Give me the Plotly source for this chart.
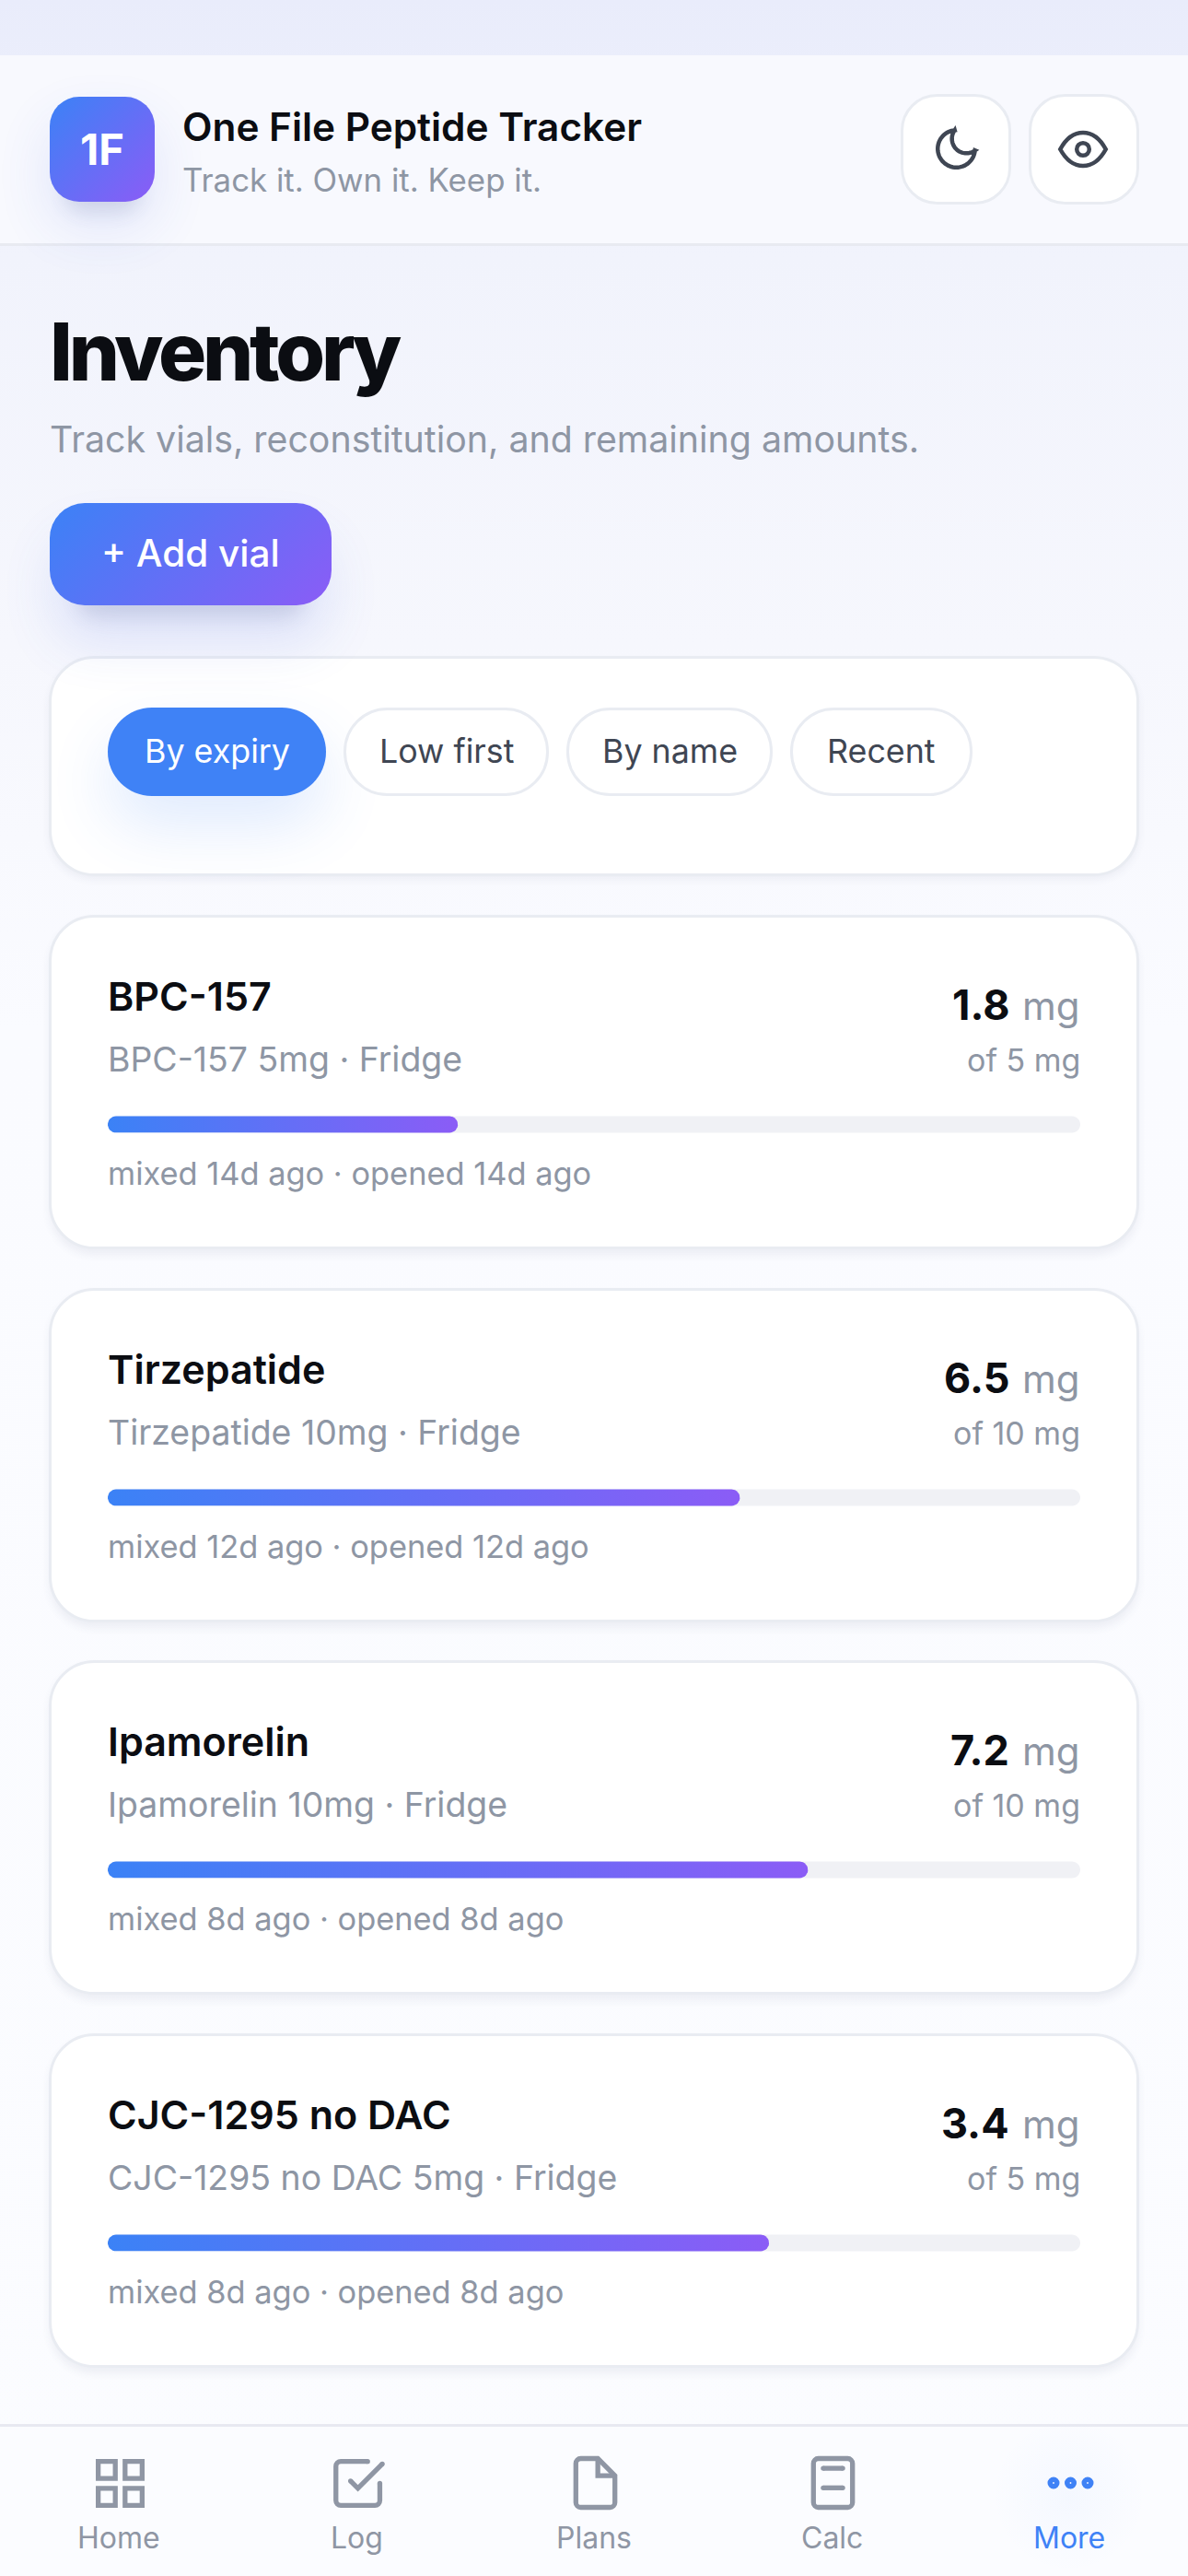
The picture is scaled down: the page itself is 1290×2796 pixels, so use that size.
import base64
import re
import numpy as np
import plotly.graph_objects as go

# values
vial_names = ["BPC-157", "Tirzepatide", "Ipamorelin", "CJC-1295 no DAC"]
vial_remaining = [1.8, 6.5, 7.2, 3.4]
vial_totals = [5, 10, 10, 5]
vial_mixed_days = [14, 12, 8, 8]
vial_opened_days = [14, 12, 8, 8]
vial_storage = ["Fridge", "Fridge", "Fridge", "Fridge"]
chip_labels = ["By expiry", "Low first", "By name", "Recent"]
nav_labels = ["Home", "Log", "Plans", "Calc", "More"]

W, H = 1290, 2796
FONT = "Inter"
INK = "#0B0D12"
GREY = "#8E96A4"
DARK = "#3F4653"
BLUE = "#3F82F6"
PURPLE = "#8B5CF6"
EDGE = "#E9ECF2"

card_tops = [993, 1398, 1802, 2207]
card_h = 363
track_x0, track_x1 = 117, 1173

shapes = []
annotations = []


def rr(x0, y0, x1, y1, r):
    k = r * 0.4477
    return (f"M{x0 + r} {y0} L{x1 - r} {y0} C{x1 - k} {y0} {x1} {y0 + k} {x1} {y0 + r} "
            f"L{x1} {y1 - r} C{x1} {y1 - k} {x1 - k} {y1} {x1 - r} {y1} "
            f"L{x0 + r} {y1} C{x0 + k} {y1} {x0} {y1 - k} {x0} {y1 - r} "
            f"L{x0} {y0 + r} C{x0} {y0 + k} {x0 + k} {y0} {x0 + r} {y0} Z")


def box(x0, y0, x1, y1, r, fill, line=None, lw=0, layer="between"):
    shapes.append(dict(type="path", path=rr(x0, y0, x1, y1, r), xref="x", yref="y", layer=layer,
                       fillcolor=fill, line=dict(color=line or fill, width=lw)))


def band(y0, y1, color):
    shapes.append(dict(type="rect", xref="x", yref="y", layer="between", x0=0, x1=W, y0=y0, y1=y1,
                       fillcolor=color, line=dict(width=0)))


def stroke(path, color, lw, fill="rgba(0,0,0,0)"):
    shapes.append(dict(type="path", path=path, xref="x", yref="y", layer="above",
                       fillcolor=fill, line=dict(color=color, width=lw)))


def icon(path, cx, cy, s):
    # path is written in a 24 unit box, numbers alternate x y
    nums = iter(range(10000))

    def repl(m):
        v = float(m.group())
        if next(nums) % 2 == 0:
            return f"{cx + (v - 12) * s:.2f}"
        return f"{cy + (v - 12) * s:.2f}"
    return re.sub(r"-?\d+\.?\d*", repl, path)


def dot(x, y, r, color):
    shapes.append(dict(type="circle", xref="x", yref="y", layer="above", x0=x - r, x1=x + r,
                       y0=y - r, y1=y + r, fillcolor=color, line=dict(width=0)))


def label(text, x, base, size, color, weight=400, anchor="left"):
    annotations.append(dict(text=text, x=x, y=base + size * 0.24, xref="x", yref="y", showarrow=False,
                            xanchor=anchor, yanchor="bottom", align=anchor, borderpad=0, borderwidth=0,
                            font=dict(family=FONT, size=size, color=color, weight=weight)))


def grad_def(name, x, y, w, h):
    half = (w + h) / 4
    mx, my = x + w / 2, y + h / 2
    return (f'<linearGradient id="{name}" gradientUnits="userSpaceOnUse" x1="{mx - half}" y1="{my - half}" '
            f'x2="{mx + half}" y2="{my + half}"><stop offset="0" stop-color="#3B82F6"/>'
            f'<stop offset="1" stop-color="{PURPLE}"/></linearGradient>')


def blur_def(name, sd):
    return (f'<filter id="{name}" x="-50%" y="-100%" width="200%" height="300%">'
            f'<feGaussianBlur stdDeviation="{sd}"/></filter>')


def page_image(defs, body, layer):
    svg = (f'<svg xmlns="http://www.w3.org/2000/svg" width="{W}" height="{H}" viewBox="0 0 {W} {H}">'
           f'<defs>{defs}</defs>{body}</svg>')
    src = "data:image/svg+xml;base64," + base64.b64encode(svg.encode()).decode()
    return dict(source=src, xref="x", yref="y", x=0, y=0, sizex=W, sizey=H, sizing="stretch",
                xanchor="left", yanchor="top", layer=layer)


def soft(x, y, w, h, r, color, op, f):
    return f'<rect x="{x}" y="{y}" width="{w}" height="{h}" rx="{r}" fill="{color}" opacity="{op}" filter="url(#{f})"/>'


# backdrop: page wash and soft card shadows
below_defs = ('<linearGradient id="wash" x1="0" y1="0" x2="0" y2="1">'
              '<stop offset="0" stop-color="#E9ECFB"/><stop offset="0.1" stop-color="#F1F3FC"/>'
              '<stop offset="0.25" stop-color="#F6F7FD"/><stop offset="0.4" stop-color="#FAFBFF"/>'
              '<stop offset="1" stop-color="#FBFCFF"/></linearGradient>' + blur_def("b5", 5))
below_body = f'<rect width="{W}" height="{H}" fill="url(#wash)"/>'
below_body += soft(54, 718, 1182, 236, 48, "#3A4470", 0.07, "b5")
for t in card_tops:
    below_body += soft(54, t + 6, 1182, card_h, 48, "#3A4470", 0.07, "b5")

# top layer: logo, add button and their glows
above_defs = (blur_def("b30", 30) + blur_def("b10", 10) + blur_def("b40", 34)
              + grad_def("g1", 54, 105, 114, 114) + grad_def("g2", 54, 546, 306, 111)
              + '<radialGradient id="glow"><stop offset="0" stop-color="#3B82F6" stop-opacity="0.035"/>'
              '<stop offset="1" stop-color="#3B82F6" stop-opacity="0"/></radialGradient>')
above_body = soft(54, 132, 114, 114, 30, "#3B5BE0", 0.13, "b30")
above_body += soft(70, 190, 82, 40, 20, "#3A4470", 0.13, "b10")
above_body += soft(60, 585, 294, 111, 36, "#3B5BE0", 0.14, "b30")
above_body += soft(84, 625, 246, 45, 20, "#3A4470", 0.13, "b10")
above_body += soft(117, 800, 237, 96, 48, BLUE, 0.16, "b40")
above_body += '<circle cx="1161" cy="2708" r="84" fill="url(#glow)"/>'
above_body += '<rect x="54" y="105" width="114" height="114" rx="32" fill="url(#g1)"/>'
above_body += '<rect x="54" y="546" width="306" height="111" rx="38" fill="url(#g2)"/>'

# header and bottom nav bands
band(60, 264, "#F8F9FE")
band(264, 267, "#E8EAF1")
band(2634, H, "#FBFCFF")
band(2631, 2634, "#E8E9F1")

# header
label("1F", 111, 179, 47, "#FFFFFF", 700, "center")
label("One File Peptide Tracker", 198, 153, 42.3, INK, 600)
label("Track it. Own it. Keep it.", 198, 208, 34.8, GREY, 400)
box(979.5, 103.5, 1096.5, 220.5, 38, "#FFFFFF", EDGE, 3)
box(1118.5, 103.5, 1235.5, 220.5, 38, "#FFFFFF", EDGE, 3)

a = np.radians(np.linspace(5, 265, 50))
moon = [(12 + 9 * np.cos(t), 12 + 9 * np.sin(t)) for t in a]
a = np.radians(np.linspace(216.5, 53.5, 40))
moon += [(16.84 + 7 * np.cos(t), 7.16 + 7 * np.sin(t)) for t in a]
moon_path = "M" + " L".join(f"{x:.2f} {y:.2f}" for x, y in moon) + " Z"
stroke(icon(moon_path, 1038.5, 161.5, 2.25), DARK, 4.5)
stroke(icon("M1 12 C4 6.5 7.5 4 12 4 C16.5 4 20 6.5 23 12 C20 17.5 16.5 20 12 20 C7.5 20 4 17.5 1 12 Z",
            1176, 162, 2.25), DARK, 4.5)
shapes.append(dict(type="circle", xref="x", yref="y", layer="above", x0=1169.2, x1=1182.8, y0=155.2, y1=168.8,
                   fillcolor="rgba(0,0,0,0)", line=dict(color=DARK, width=4.5)))

# page heading
label("Inventory", 54, 413, 87, INK, 700)
label("Track vials, reconstitution, and remaining amounts.", 54, 491, 39.3, GREY, 400)
label("+ Add vial", 207, 615, 40.5, "#FFFFFF", 500, "center")

# sort chips
box(54.5, 713.5, 1235.5, 949.5, 48, "#FFFFFF", EDGE, 3)
chip_edges = [(117, 354), (374.5, 594.5), (616.5, 837.5), (859.5, 1054.5)]
for i, (name, (x0, x1)) in enumerate(zip(chip_labels, chip_edges)):
    if i == 0:
        box(x0, 768, x1, 864, 48, BLUE, layer="above")
    else:
        box(x0, 769.5, x1, 862.5, 46, "#FFFFFF", EDGE, 3, layer="above")
    label(name, (x0 + x1) / 2, 828, 35.8, "#FFFFFF" if i == 0 else DARK, 400, "center")

# vial cards
traces = []
for i, name in enumerate(vial_names):
    t = card_tops[i]
    box(54.5, t + 1.5, 1235.5, t + card_h - 1.5, 48, "#FFFFFF", EDGE, 3)
    label(name, 117, t + 104, 43, INK, 600)
    label(f"{name} {vial_totals[i]}mg · {vial_storage[i]}", 117, t + 170, 37.4, GREY, 400)
    label(f"{vial_remaining[i]}", 1096, t + 114, 45, INK, 700, "right")
    label("mg", 1173, t + 114, 42, GREY, 400, "right")
    label(f"of {vial_totals[i]} mg", 1173, t + 170, 34, GREY, 400, "right")
    label(f"mixed {vial_mixed_days[i]}d ago · opened {vial_opened_days[i]}d ago", 117, t + 293, 34.4, GREY, 400)

    cy = t + 227.5
    box(track_x0, cy - 9, track_x1, cy + 9, 9, "#F0F1F5")
    # fill is drawn on x2, which runs 0 to 1 over the track
    frac = vial_remaining[i] / vial_totals[i]
    rx = 9 / (track_x1 - track_x0)
    ang = np.radians(np.linspace(-90, 90, 16))
    xs = list(frac - rx + rx * np.cos(ang)) + list(rx - rx * np.cos(ang[::-1]))
    ys = list(cy + 9 * np.sin(ang)) + list(cy + 9 * np.sin(ang[::-1]))
    traces.append(go.Scatter(x=xs + xs[:1], y=ys + ys[:1], xaxis="x2", yaxis="y", mode="lines", fill="toself",
                             line=dict(width=0), hoverinfo="skip", showlegend=False,
                             fillgradient=dict(type="horizontal",
                                               colorscale=[[0, "#3B82F6"], [1, PURPLE]])))

# bottom nav
nav_x = [129, 387, 645, 903, 1161]
NAV = "#8F96A4"
for x, name in zip(nav_x, nav_labels):
    label(name, x, 2766, 32, BLUE if name == "More" else NAV, 400, "center")

s = 2.65
for gx, gy in [(3, 3), (14, 3), (3, 14), (14, 14)]:
    stroke(icon(f"M{gx} {gy} L{gx + 7} {gy} L{gx + 7} {gy + 7} L{gx} {gy + 7} Z", 130.5, 2695.5, s), NAV, 5.3)
stroke(icon("M21 12 L21 19 C21 20.1 20.1 21 19 21 L5 21 C3.9 21 3 20.1 3 19 L3 5 C3 3.9 3.9 3 5 3 L16 3",
            388.6, 2695.5, s), NAV, 5.3)
stroke(icon("M9 11 L12 14 L22 4", 388.6, 2695.5, s), NAV, 5.3)
for ux, uy in [(21, 12), (16, 3), (9, 11), (22, 4)]:
    dot(388.6 + (ux - 12) * s, 2695.5 + (uy - 12) * s, 2.65, NAV)
stroke(icon("M13 2 L6 2 C4.9 2 4 2.9 4 4 L4 20 C4 21.1 4.9 22 6 22 L18 22 C19.1 22 20 21.1 20 20 L20 9 Z",
            646.5, 2695, s), NAV, 5.3)
stroke(icon("M13 2 L13 9 L20 9", 646.5, 2695, s), NAV, 5.3)
stroke(icon("M6 2 L18 2 C19.1 2 20 2.9 20 4 L20 20 C20 21.1 19.1 22 18 22 L6 22 C4.9 22 4 21.1 4 20 L4 4 C4 2.9 4.9 2 6 2 Z",
            904.5, 2695, s), NAV, 5.3)
for uy in [6, 14]:
    stroke(icon(f"M8 {uy} L16 {uy}", 904.5, 2695, s), NAV, 5.3)
    dot(904.5 + (8 - 12) * s, 2695 + (uy - 12) * s, 2.65, NAV)
    dot(904.5 + (16 - 12) * s, 2695 + (uy - 12) * s, 2.65, NAV)
for x in [1144, 1162.5, 1181]:
    shapes.append(dict(type="circle", xref="x", yref="y", layer="above", x0=x - 3.7, x1=x + 3.7,
                       y0=2695 - 3.7, y1=2695 + 3.7, fillcolor="rgba(0,0,0,0)", line=dict(color=BLUE, width=5.6)))

fig = go.Figure(data=traces)
fig.update_layout(
    width=W, height=H, margin=dict(l=0, r=0, t=0, b=0), autosize=False,
    paper_bgcolor="#FAFBFF", plot_bgcolor="rgba(0,0,0,0)", showlegend=False,
    shapes=shapes, annotations=annotations,
    images=[page_image(below_defs, below_body, "below"), page_image(above_defs, above_body, "above")],
    xaxis=dict(range=[0, W], visible=False, fixedrange=True),
    yaxis=dict(range=[H, 0], visible=False, fixedrange=True),
    xaxis2=dict(range=[0, 1], domain=[track_x0 / W, track_x1 / W], anchor="y", visible=False, fixedrange=True),
)
# plotly has no letter spacing option, the big heading needs it
fig.write_html("out.html", config=dict(displayModeBar=False),
               post_script="document.body.style.margin='0';"
                           "document.querySelectorAll('.annotation-text').forEach(function(t){"
                           "if(t.textContent==='Inventory'){t.style.letterSpacing='-4.2px';t.style.fontWeight='800';}});")
